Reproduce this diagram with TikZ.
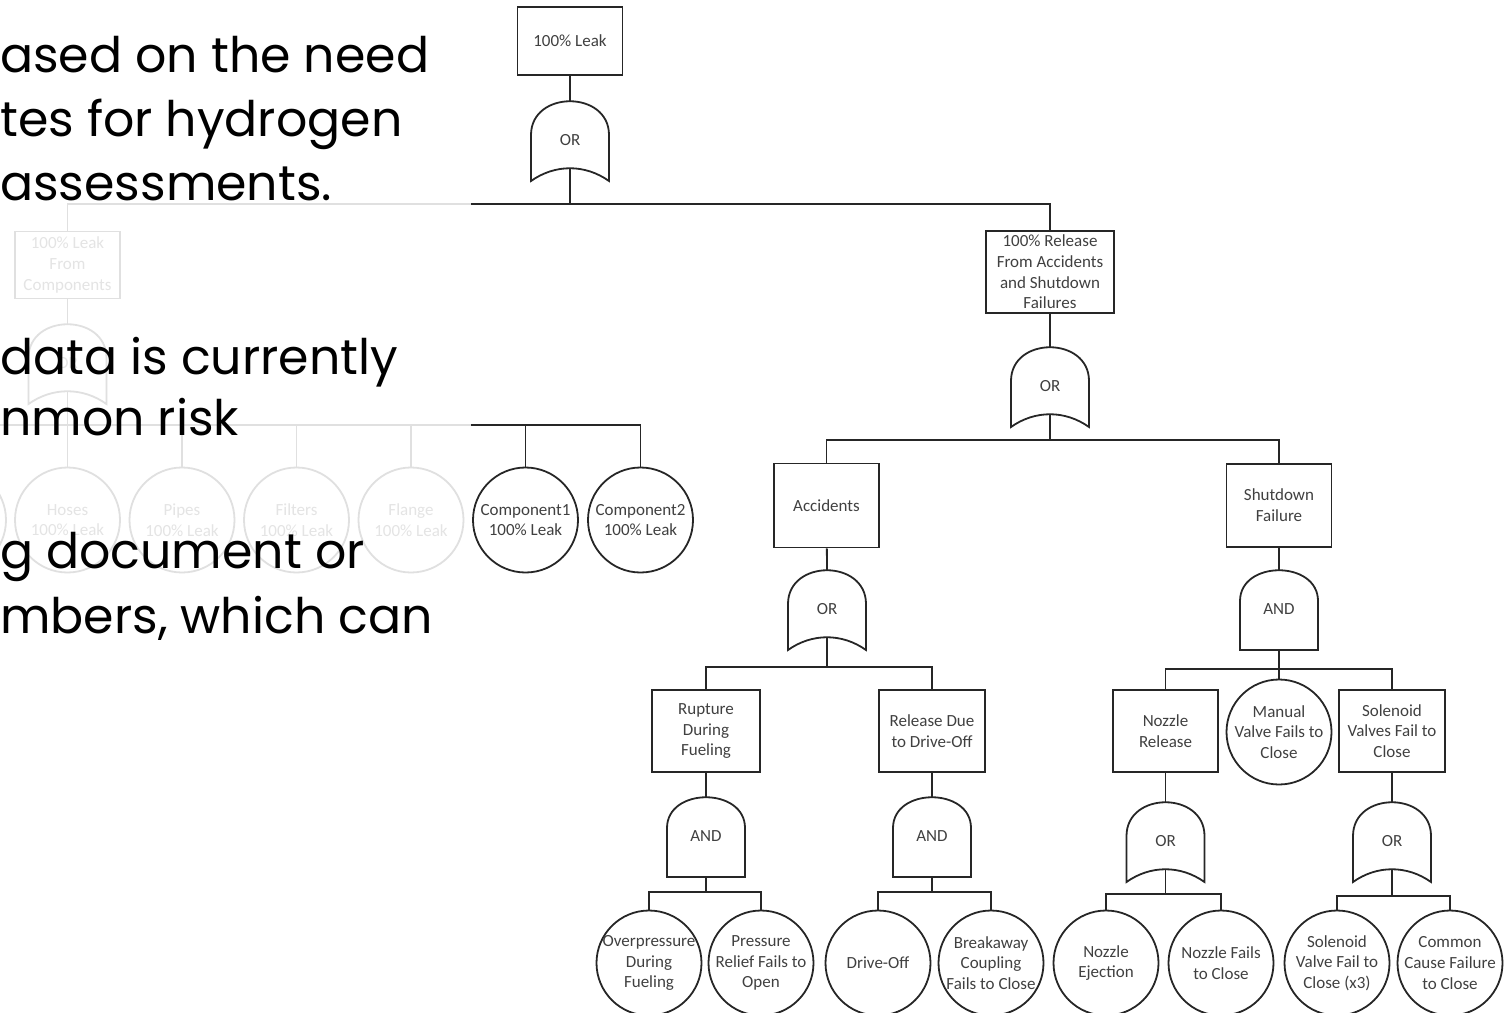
\documentclass[tikz,border=0pt]{standalone}
\usepackage{fontspec}
\setmainfont{Carlito}
\newfontfamily\slidefont{Poppins}

\tikzset{
  orgate/.pic={
    \draw[wire] (-39,40) -- (-39,-6) .. controls (-39,-51) and (39,-51) .. (39,-6)
      -- (39,40) .. controls (15,23) and (-15,23) .. (-39,40) -- cycle;
    \node[treetext] (-lbl) at (0,-1) {OR};
    \coordinate (-in) at (0,-40);
    \coordinate (-out) at (0,27);
  },
  andgate/.pic={
    \draw[wire] (-39,40) -- (-39,-9) .. controls (-39,-50) and (39,-50) .. (39,-9)
      -- (39,40) -- cycle;
    \node[treetext] (-lbl) at (0,-1) {AND};
    \coordinate (-in) at (0,-40);
    \coordinate (-out) at (0,40);
  }
}

\begin{document}
\begin{tikzpicture}[x=1pt,y=-1pt,
  wire/.style={line width=1.8pt,draw=black!85},
  treetext/.style={font=\fontsize{17}{20.7}\selectfont,text=black!75,align=center,inner sep=0pt},
  evtbox/.style={treetext,wire,rectangle,minimum width=105pt,minimum height=82pt,inner sep=1pt},
  basic/.style={treetext,wire,circle,minimum size=105pt,inner sep=-6pt},
  slide/.style={font=\slidefont\fontsize{49}{53}\selectfont,text=black,inner sep=0pt,anchor=base west}]
\useasboundingbox (0,0) rectangle (1512,1012);
\clip (0,0) rectangle (1512,1012);

\node[evtbox,minimum height=68pt] (top) at (570,41) {100\% Leak};
\pic (gTop) at (570,141) {orgate};
\coordinate (busTop) at (570,204);

\node[evtbox,minimum height=67pt] (comp) at (67.5,265) {100\% Leak\\From\\Components};
\pic (gComp) at (67.5,364) {orgate};
\coordinate (busComp) at (67.5,425);
\node[basic] (leak0) at (-46.5,520) {};
\node[basic] (hoses) at (67.5,520) {Hoses\\100\% Leak};
\node[basic] (pipes) at (182,520) {Pipes\\100\% Leak};
\node[basic] (filters) at (296.5,520) {Filters\\100\% Leak};
\node[basic] (flange) at (411,520) {Flange\\100\% Leak};
\node[basic] (comp1) at (525.5,520) {Component1\\100\% Leak};
\node[basic] (comp2) at (640.5,520) {Component2\\100\% Leak};

\node[evtbox,minimum width=128pt] (rel) at (1050,272) {100\% Release\\From Accidents\\and Shutdown\\Failures};
\pic (gRel) at (1050,387) {orgate};
\coordinate (busRel) at (1050,440);

\node[evtbox,minimum height=84pt] (acc) at (826.5,505.5) {Accidents};
\pic (gAcc) at (827,610) {orgate};
\coordinate (busAcc) at (827,667);

\node[evtbox,minimum height=83pt] (shut) at (1279,505.5) {Shutdown\\Failure};
\pic (gShut) at (1279,610) {andgate};
\coordinate (busShut) at (1279,669);

\node[evtbox,minimum width=108pt] (rup) at (706,731) {Rupture\\During\\Fueling};
\pic (gRup) at (706,837) {andgate};
\coordinate (busRup) at (706,892);

\node[evtbox,minimum width=106pt] (drive) at (932,731) {Release Due\\to Drive-Off};
\pic (gDrive) at (932,837) {andgate};
\coordinate (busDrive) at (932,892);

\node[evtbox] (noz) at (1165.5,731) {Nozzle\\Release};
\pic (gNoz) at (1165.5,842) {orgate};
\coordinate (busNoz) at (1165.5,894);

\node[basic] (manual) at (1279,732) {Manual\\Valve Fails to\\Close};

\node[evtbox,minimum width=106pt] (sol) at (1392,731) {Solenoid\\Valves Fail to\\Close};
\pic (gSol) at (1392,842) {orgate};
\coordinate (busSol) at (1392,896);

\node[basic] (overp) at (649,963) {Overpressure\\During\\Fueling};
\node[basic] (prelief) at (761,963) {Pressure\\Relief Fails to\\Open};
\node[basic] (driveoff) at (878,963) {Drive-Off};
\node[basic] (breakaway) at (991,963) {Breakaway\\Coupling\\Fails to Close};
\node[basic] (ejection) at (1106,963) {Nozzle\\Ejection};
\node[basic] (nfails) at (1221,963) {Nozzle Fails\\to Close};
\node[basic] (solfail) at (1337,963) {Solenoid\\Valve Fail to\\Close (x3)};
\node[basic] (ccf) at (1450,963) {Common\\Cause Failure\\to Close};

\draw[wire] (top) -- (gTop-in);
\draw[wire] (gTop-out) -- (busTop);
\draw[wire] (comp) |- (busTop) -| (rel);
\draw[wire] (comp) -- (gComp-in);
\draw[wire] (gComp-out) -- (hoses);
\draw[wire] (leak0) |- (busComp) -| (comp2);
\foreach \n in {pipes,filters,flange,comp1}
  \draw[wire] (\n) -- (\n |- busComp);
\draw[wire] (rel) -- (gRel-in);
\draw[wire] (gRel-out) -- (busRel);
\draw[wire] (acc) |- (busRel) -| (shut);
\draw[wire] (acc) -- (gAcc-in);
\draw[wire] (gAcc-out) -- (busAcc);
\draw[wire] (rup) |- (busAcc) -| (drive);
\draw[wire] (shut) -- (gShut-in);
\draw[wire] (gShut-out) -- (manual);
\draw[wire] (noz) |- (busShut) -| (sol);
\draw[wire] (rup) -- (gRup-in);
\draw[wire] (gRup-out) -- (busRup);
\draw[wire] (overp) |- (busRup) -| (prelief);
\draw[wire] (drive) -- (gDrive-in);
\draw[wire] (gDrive-out) -- (busDrive);
\draw[wire] (driveoff) |- (busDrive) -| (breakaway);
\draw[wire] (noz) -- (gNoz-in);
\draw[wire] (gNoz-out) -- (busNoz);
\draw[wire] (ejection) |- (busNoz) -| (nfails);
\draw[wire] (sol) -- (gSol-in);
\draw[wire] (gSol-out) -- (busSol);
\draw[wire] (solfail) |- (busSol) -| (ccf);

\fill[white,fill opacity=0.86] (0,0) rectangle (471,700);

\node[slide] (s1) at (0,72) {ased on the need};
\node[slide] (s2) at (0,136) {tes for hydrogen};
\node[slide] (s3) at (0,200) {assessments.};
\node[slide] (s4) at (0,374) {data is currently};
\node[slide] (s5) at (0,435) {nmon risk};
\node[slide] (s6) at (0,568) {g document or};
\node[slide] (s7) at (0,633) {mbers, which can};
\end{tikzpicture}
\end{document}
